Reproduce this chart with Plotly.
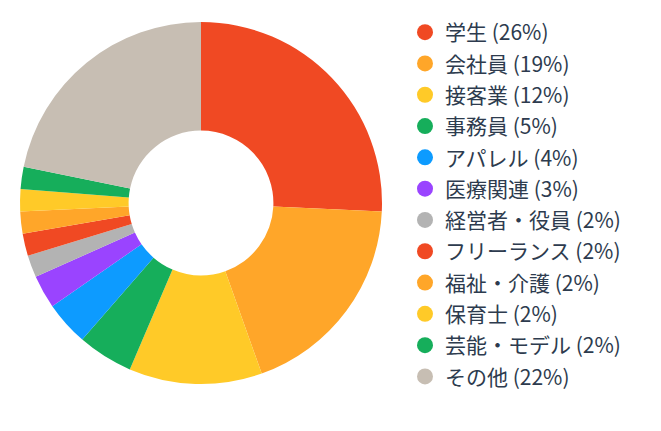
import plotly.graph_objects as go

labels = ["学生", "会社員", "接客業", "事務員", "アパレル", "医療関連", "経営者・役員",
          "フリーランス", "福祉・介護", "保育士", "芸能・モデル", "その他"]
values = [26, 19, 12, 5, 4, 3, 2, 2, 2, 2, 2, 22]
colors = ["#F04923", "#FFA629", "#FFCA28", "#16AE5B", "#0D9BFF", "#9A44FF", "#B3B3B3",
          "#F04923", "#FFA629", "#FFCA28", "#16AE5B", "#C7BEB3"]

fig = go.Figure()
fig.add_trace(go.Pie(
    labels=labels, values=values, sort=False, direction="clockwise", rotation=0,
    hole=0.4, textinfo="none", showlegend=False,
    marker=dict(colors=colors, line=dict(width=0)),
    domain=dict(x=[20/661, 382/661], y=[1-384/431, 1-22/431]),
))
for lab, val, col in zip(labels, values, colors):
    fig.add_trace(go.Scatter(
        x=[None], y=[None], mode="markers", name=f"{lab} ({val}%)",
        marker=dict(color=col, size=18, symbol="circle"), legendgroup=lab,
    ))

fig.update_layout(
    width=661, height=431, margin=dict(l=0, r=0, t=0, b=0),
    paper_bgcolor="white", plot_bgcolor="white",
    font=dict(family="Noto Sans CJK JP", size=21, color="#2D3B4E"),
    xaxis=dict(visible=False), yaxis=dict(visible=False),
    legend=dict(x=405/661, y=1-12/431, xanchor="left", yanchor="top",
                tracegroupgap=1, itemsizing="trace", font=dict(size=21)),
)
fig.write_html("out.html")
